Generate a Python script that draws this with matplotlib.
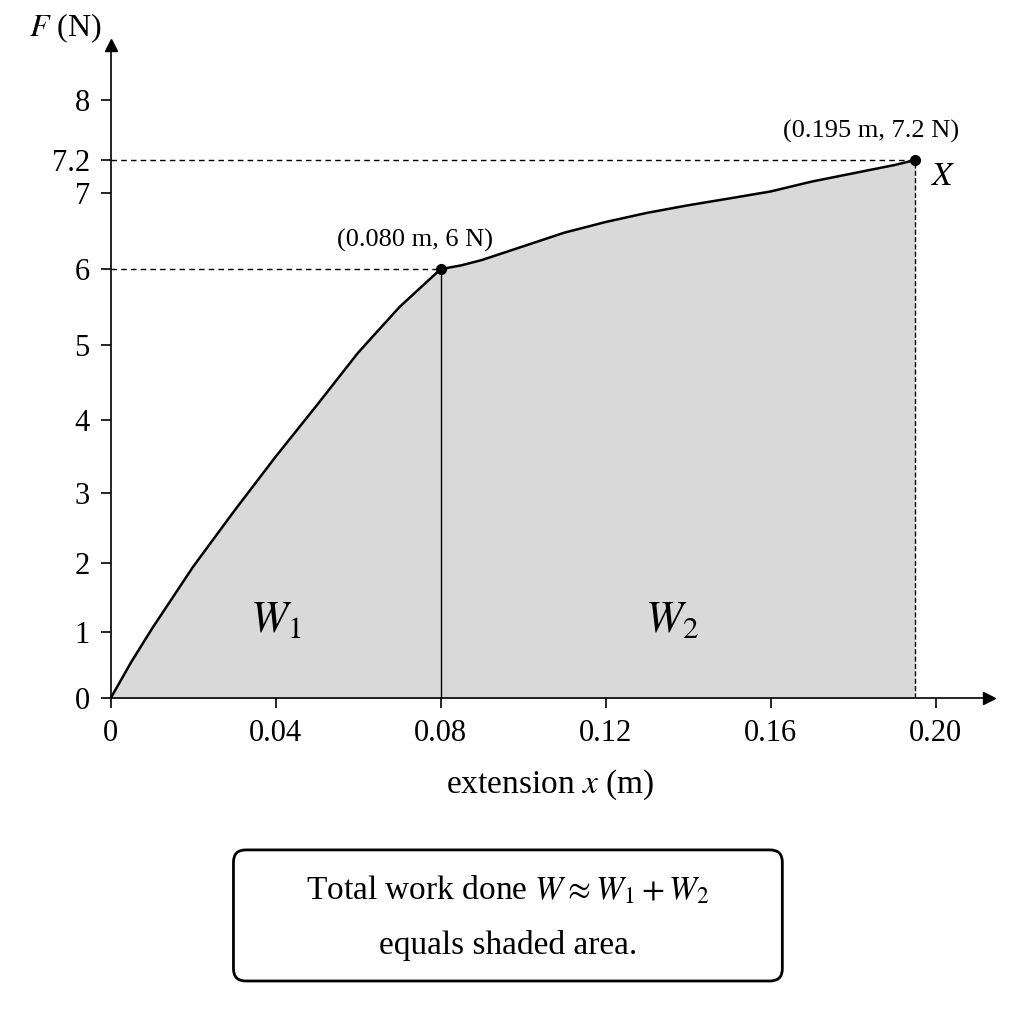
import numpy as np
import matplotlib.pyplot as plt
from matplotlib.patches import FancyBboxPatch

plt.rcParams['font.family'] = ['Liberation Serif', 'DejaVu Serif']
plt.rcParams['mathtext.fontset'] = 'stix'

# force-extension curve
ext = [0, 0.005, 0.01, 0.02, 0.03, 0.04, 0.05, 0.06, 0.07, 0.08,
       0.085, 0.09, 0.10, 0.11, 0.12, 0.13, 0.14, 0.15, 0.16, 0.17, 0.18, 0.19, 0.195]
force = [0, 0.55, 1.05, 1.95, 2.75, 3.5, 4.2, 4.9, 5.5, 6.0,
         6.05, 6.12, 6.3, 6.48, 6.62, 6.74, 6.84, 6.93, 7.01, 7.07, 7.12, 7.17, 7.2]
xticks = [0, 0.04, 0.08, 0.12, 0.16, 0.20]
xticklabels = ['0', '0.04', '0.08', '0.12', '0.16', '0.20']
yticks = [0, 1, 2, 3, 4, 5, 6, 7, 7.2, 8]
kink = (0.080, 6.0)
end = (0.195, 7.2)

# the drawn force axis is not evenly spaced: tick value -> relative position
yval = [0, 1, 2, 3, 4, 5, 6, 7, 7.2, 8, 8.74]
ypos = [0, 66, 135, 205, 278, 353, 429, 505, 538, 598, 653]

def fwd(v):
    return np.interp(v, yval, ypos)

def inv(p):
    return np.interp(p, ypos, yval)

fig = plt.figure(figsize=(10.24, 10.24), dpi=100)
ax = fig.add_axes([0.108, 0.318, 0.858, 0.638])
ax.set_yscale('function', functions=(fwd, inv))
ax.set_xlim(0, 0.213)
ax.set_ylim(0, 8.74)

ax.fill_between(ext, force, color='#d9d9d9', lw=0)
ax.plot(ext, force, color='black', lw=1.8)
ax.plot([kink[0], kink[0]], [0, kink[1]], color='black', lw=1)
ax.plot([end[0], end[0]], [0, end[1]], color='black', lw=1, ls='--')
ax.plot([0, kink[0]], [kink[1], kink[1]], color='black', lw=1, ls=(0, (4, 3)))
ax.plot([0, end[0]], [end[1], end[1]], color='black', lw=1, ls=(0, (4, 3)))
ax.plot(*zip(kink, end), 'o', color='black', ms=7, ls='none')

ax.text(kink[0] - 0.025, kink[1] + 0.3, '(0.080 m, 6 N)', fontsize=19)
ax.text(end[0] - 0.032, end[1] + 0.3, '(0.195 m, 7.2 N)', fontsize=19)
ax.text(end[0] + 0.004, end[1] - 0.1, '$X$', fontsize=24, va='center')
ax.text(0.04, 1.0, '$W_1$', fontsize=32, ha='center')
ax.text(0.136, 1.0, '$W_2$', fontsize=32, ha='center')

for s in ['top', 'right']:
    ax.spines[s].set_visible(False)
ax.spines['left'].set_linewidth(1.2)
ax.spines['bottom'].set_linewidth(1.2)
ax.plot(1, 0, '>k', ms=9, transform=ax.transAxes, clip_on=False)
ax.plot(0, 1, '^k', ms=9, transform=ax.transAxes, clip_on=False)

ax.set_xticks(xticks)
ax.set_xticklabels(xticklabels)
ax.set_yticks(yticks)
ax.set_yticklabels(['0', '1', '2', '3', '4', '5', '6', '7', '7.2', '8'])
ax.minorticks_off()
ax.tick_params(labelsize=22, length=7, width=1.2, pad=8)
ax.set_xlabel('extension $x$ (m)', fontsize=24, labelpad=14)
ax.text(-0.01, 1.0, '$F$ (N)', fontsize=23, transform=ax.transAxes, ha='right', va='bottom')

box = FancyBboxPatch((0.228, 0.042), 0.536, 0.128, boxstyle='round,pad=0,rounding_size=0.012',
                     transform=fig.transFigure, fc='white', ec='black', lw=2)
fig.patches.append(box)
fig.text(0.496, 0.131, r'Total work done $W \approx W_1 + W_2$', fontsize=24, ha='center', va='center')
fig.text(0.496, 0.077, 'equals shaded area.', fontsize=24, ha='center', va='center')

fig.savefig('out.png')
